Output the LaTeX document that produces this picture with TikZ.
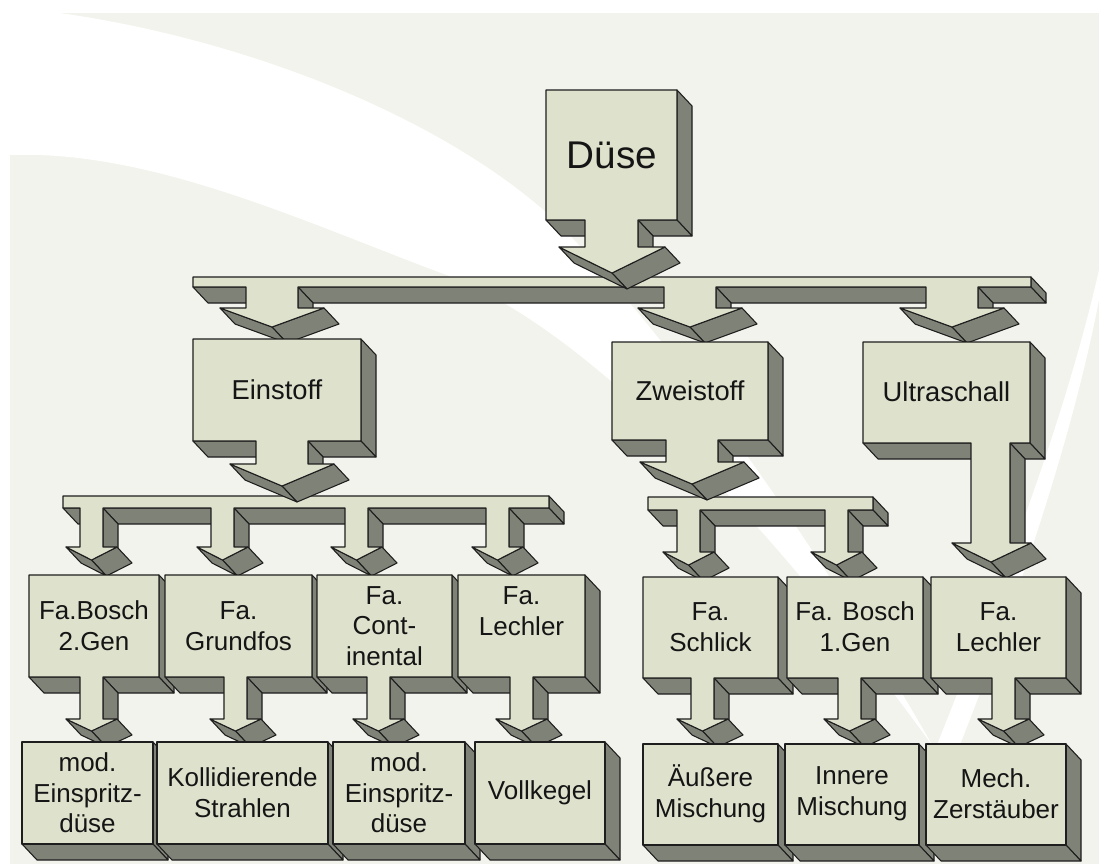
\documentclass[tikz,border=0pt]{standalone}
\usepackage{fontspec}
\setmainfont{Liberation Sans}
\definecolor{panelc}{HTML}{F2F3EC}
\definecolor{frontc}{HTML}{DEE1CC}
\definecolor{sidec}{HTML}{7F8277}
\definecolor{edgec}{HTML}{1E1E1E}
\definecolor{txtc}{HTML}{151515}

% extrusion offset of every solid (pixels, y downwards)
\def\ddx{15}
\def\ddy{16}

% \extrude{x/y,...}: clockwise outline, first point repeated at the end.
% Draws the visible side walls, then the front face.
\newcommand\extrude[1]{%
  \gdef\slabpath{}%
  \foreach \px/\py [remember=\px as \qx (initially 0),
                    remember=\py as \qy (initially 0), count=\vi] in {#1} {%
    \ifnum\vi>1
      \pgfmathtruncatemacro\facing{((\py-\qy)*\ddx-(\px-\qx)*\ddy)>0}%
      \ifnum\facing=1
        \filldraw[side] (\qx,\qy) -- (\px,\py) -- (\px+\ddx,\py+\ddy)
                        -- (\qx+\ddx,\qy+\ddy) -- cycle;
      \fi
    \fi
    \xdef\slabpath{\slabpath (\px,\py) --}%
  }%
  \filldraw[front] \slabpath cycle;
}

\begin{document}
\begin{tikzpicture}[x=0.75pt,y=-0.75pt,
  front/.style={fill=frontc, draw=edgec, line width=0.8pt, line join=round},
  side/.style={fill=sidec, draw=edgec, line width=0.8pt, line join=round},
  lbl/.style={font=\fontsize{19.5}{23}\selectfont, align=center, text=txtc, inner sep=0pt},
  mid/.style={lbl, font=\fontsize{20.5}{24}\selectfont},
  big/.style={lbl, font=\fontsize{29}{32}\selectfont}]

% background
\useasboundingbox (0,0) rectangle (1099,864);
\fill[white] (0,0) rectangle (1099,864);
\fill[panelc] (10,13) rectangle (1099,864);
\fill[white] (10,13) -- (60,13)
  .. controls (250,40) and (450,120) .. (560,225)
  .. controls (700,370) and (850,600) .. (935,750)
  .. controls (990,610) and (1060,440) .. (1099,270) -- (1099,300)
  .. controls (1070,450) and (1010,620) .. (950,770)
  .. controls (800,560) and (600,330) .. (441,273)
  .. controls (300,220) and (150,150) .. (10,155) -- cycle;

% first distribution bar
\extrude{193/277, 1031/277, 1031/287,
  978/287, 978/308, 1004/308, 952/327, 900/308, 926/308, 926/287,
  716/287, 716/308, 742/308, 690/327, 638/308, 664/308, 664/287,
  298/287, 298/308, 324/308, 272/327, 220/308, 246/308, 246/287,
  193/287, 193/277}

% root
\extrude{546/90, 677/90, 677/220, 638/220, 638/247, 665/247, 612/273,
  559/247, 585/247, 585/220, 546/220, 546/90}
\node[big] (duese) at (612,155) {Düse};

% bar below Einstoff
\extrude{63/496, 549/496, 549/508,
  509/508, 509/547, 523/547, 497.5/560, 472/547, 486/547, 486/508,
  368/508, 368/547, 382/547, 356.5/560, 331/547, 345/547, 345/508,
  234/508, 234/547, 248/547, 222.5/560, 197/547, 211/547, 211/508,
  103/508, 103/547, 117/547, 91.5/560, 66/547, 80/547, 80/508,
  63/508, 63/496}

% bar below Zweistoff
\extrude{648/497, 873/497, 873/510,
  848/510, 848/552, 862/552, 836.5/565, 811/552, 825/552, 825/510,
  700/510, 700/552, 714/552, 688.5/565, 663/552, 677/552, 677/510,
  648/510, 648/497}

% second level
\extrude{193/339, 361/339, 361/441, 308/441, 308/464, 334/464, 282/486,
  230/464, 256/464, 256/441, 193/441, 193/339}
\node[mid] (einstoff) at (277,390) {Einstoff};

\extrude{612/342, 768/342, 768/440, 718/440, 718/462, 744/462, 692/484,
  640/462, 666/462, 666/440, 612/440, 612/342}
\node[mid] (zweistoff) at (690,391) {Zweistoff};

\extrude{863/342, 1030/342, 1030/443, 1010/443, 1010/543, 1031/543, 991/562,
  952/543, 971/543, 971/443, 863/443, 863/342}
\node[mid] (ultraschall) at (946.5,392) {Ultraschall};

% third level: boxes with a small arrow each
\extrude{29/575, 159/575, 159/677, 103/677, 103/719, 117/719, 91.5/731,
  66/719, 80/719, 80/677, 29/677, 29/575}
\node[lbl] (bosch2) at (94,626) {Fa.Bosch\\2.Gen};

\extrude{165/575, 312/575, 312/677, 247/677, 247/719, 261/719, 235.5/731,
  210/719, 224/719, 224/677, 165/677, 165/575}
\node[lbl] (grundfos) at (238.5,626) {Fa.\\Grundfos};

\extrude{317/575, 452/575, 452/677, 390/677, 390/719, 404/719, 378.5/731,
  353/719, 367/719, 367/677, 317/677, 317/575}
\node[lbl] (conti) at (384.5,626) {Fa.\\Cont-\\inental};

\extrude{458/575, 585/575, 585/677, 533/677, 533/719, 547/719, 521.5/731,
  496/719, 510/719, 510/677, 458/677, 458/575}
\node[lbl] (lechlerA) at (521.5,611) {Fa.\\Lechler};

\extrude{643/577, 778/577, 778/678, 714/678, 714/719, 728/719, 702.5/731,
  677/719, 691/719, 691/678, 643/678, 643/577}
\node[lbl] (schlick) at (710.5,627) {Fa.\\Schlick};

\extrude{787/577, 923/577, 923/678, 861/678, 861/719, 875/719, 849.5/731,
  824/719, 838/719, 838/678, 787/678, 787/577}
\node[lbl] (bosch1) at (855,627) {Fa. Bosch\\1.Gen};

\extrude{931/577, 1066/577, 1066/678, 1015/678, 1015/719, 1029/719, 1003.5/731,
  978/719, 992/719, 992/678, 931/678, 931/577}
\node[lbl] (lechlerB) at (998.5,627) {Fa.\\Lechler};

% bottom row
\extrude{22/742, 153/742, 153/844, 22/844, 22/742}
\node[lbl] (einspritzA) at (87.5,793) {mod.\\Einspritz-\\düse};
\extrude{157/742, 328/742, 328/844, 157/844, 157/742}
\node[lbl] (kollid) at (242.5,793) {Kollidierende\\Strahlen};
\extrude{333/742, 465/742, 465/844, 333/844, 333/742}
\node[lbl] (einspritzB) at (399,793) {mod.\\Einspritz-\\düse};
\extrude{475/742, 605/742, 605/844, 475/844, 475/742}
\node[lbl] (vollkegel) at (540,793) {Vollkegel};
\extrude{643/744, 778/744, 778/845, 643/845, 643/744}
\node[lbl] (aeussere) at (710.5,794) {Äußere\\Mischung};
\extrude{785/744, 919/744, 919/845, 785/845, 785/744}
\node[lbl] (innere) at (852,794) {Innere\\Mischung};
\extrude{926/744, 1066/744, 1066/845, 926/845, 926/744}
\node[lbl] (zerst) at (996,794) {Mech.\\Zerstäuber};
\end{tikzpicture}
\end{document}
